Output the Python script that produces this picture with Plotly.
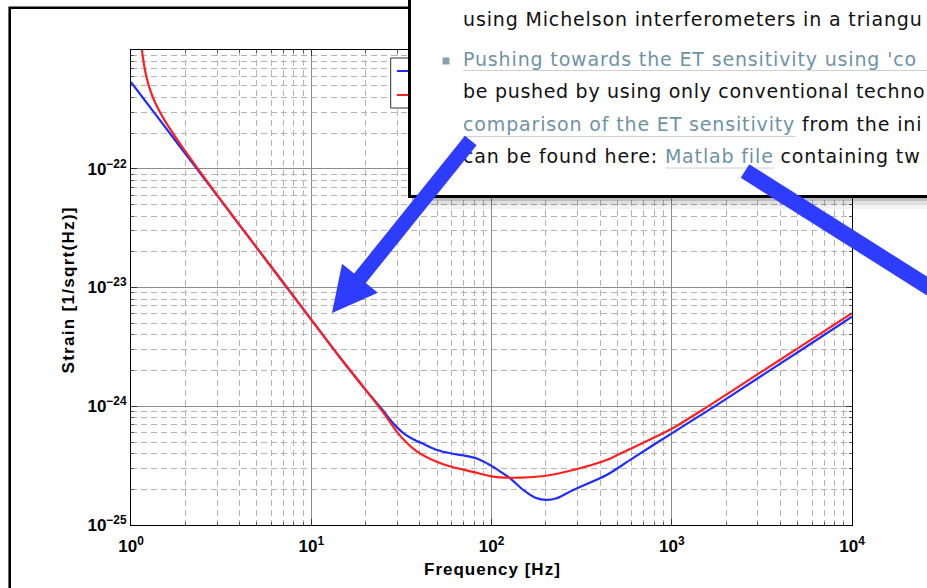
import plotly.graph_objects as go

# ---------------- data ----------------
freq_blue = [1, 1.5, 2, 2.4, 3, 4, 5, 7, 10, 14.4, 20, 25, 28, 30, 33, 37, 42, 50, 60, 70, 83, 98,
             112, 127, 150, 175, 202, 230, 284, 435, 600, 1000, 1775, 3000, 5000, 10000]
log_strain_blue = [-21.27, -21.622, -21.872, -22.03, -22.224, -22.474, -22.668, -22.96, -23.27,
                   -23.587, -23.86, -24.035, -24.13, -24.18, -24.235, -24.28, -24.318, -24.368,
                   -24.398, -24.415, -24.44, -24.495, -24.55, -24.607, -24.705, -24.77, -24.789,
                   -24.775, -24.705, -24.579, -24.443, -24.228, -23.99, -23.764, -23.545, -23.246]

freq_red = [1.1, 1.12, 1.15, 1.18, 1.22, 1.27, 1.33, 1.39, 1.5, 1.6, 1.8, 2.0, 2.4, 3, 4, 5, 7,
            10, 14.4, 20, 25, 30, 34, 38.5, 50, 60, 80, 100, 130, 160, 200, 284, 435, 516, 667,
            1000, 1630, 3000, 5000, 10000]
log_strain_red = [-20.6, -20.8, -21.0, -21.12, -21.231, -21.326, -21.408, -21.472, -21.565,
                  -21.635, -21.753, -21.852, -22.02, -22.22, -22.474, -22.668, -22.96, -23.27,
                  -23.587, -23.86, -24.05, -24.22, -24.31, -24.38, -24.47, -24.51, -24.555, -24.59,
                  -24.602, -24.598, -24.585, -24.537, -24.453, -24.40, -24.32, -24.19, -23.99,
                  -23.73, -23.513, -23.217]

x_tick_vals = [1, 10, 100, 1000, 10000]
x_tick_text = ["10<sup>0</sup>", "10<sup>1</sup>", "10<sup>2</sup>", "10<sup>3</sup>", "10<sup>4</sup>"]
y_tick_vals = [1e-25, 1e-24, 1e-23, 1e-22]
y_tick_text = ["10<sup>\u221225</sup>", "10<sup>\u221224</sup>", "10<sup>\u221223</sup>", "10<sup>\u221222</sup>"]

x_title = "Frequency [Hz]"
y_title = "Strain [1/sqrt(Hz)]"

LINK = "#6e92a6"
# popup rows (visible part only): list of (text, is_link) segments
popup_rows = [
    [("using Michelson interferometers in a triangu", False)],
    [("Pushing towards the ET sensitivity using 'co", True)],
    [("be pushed by using only conventional techno", False)],
    [("comparison of the ET sensitivity", True), (" from the ini", False)],
    [("can be found here: ", False), ("Matlab file", True), (" containing tw", False)],
]
row_spacing = [0.85, 0.85, 0.7, 0.85, 0.85]

# ---------------- layout geometry (pixels) ----------------
W, H = 927, 588
L, R, T, B = 131, 852, 50, 525


def px(x):
    return (x - L) / (R - L)


def py(y):
    return (B - y) / (B - T)


strain_blue = [10 ** v for v in log_strain_blue]
strain_red = [10 ** v for v in log_strain_red]

fig = go.Figure()
fig.add_trace(go.Scatter(x=freq_blue, y=strain_blue, mode="lines",
                         line=dict(color="#1f2bff", width=2.2, shape="spline", smoothing=0.8),
                         showlegend=False, hoverinfo="skip"))
fig.add_trace(go.Scatter(x=freq_red, y=strain_red, mode="lines",
                         line=dict(color="#ff1f1f", width=2.2, shape="spline", smoothing=0.8),
                         showlegend=False, hoverinfo="skip"))

tickfont = dict(family="Liberation Sans, Arial, sans-serif", size=17, color="black", weight="bold")
common_axis = dict(
    type="log", showgrid=True, gridcolor="#8c8c8c", gridwidth=1,
    showline=True, linecolor="black", linewidth=1, mirror="allticks",
    ticks="inside", ticklen=6, tickcolor="#333", zeroline=False, tickfont=tickfont,
    minor=dict(dtick="D1", showgrid=True, gridcolor="#b4b4b4", griddash="6px,4px",
               ticks="inside", ticklen=3, tickcolor="#555"),
)
fig.update_xaxes(range=[0, 4], tickmode="array", tickvals=x_tick_vals, ticktext=x_tick_text,
                 ticklabelstandoff=6, **common_axis)
fig.update_yaxes(range=[-25, -21], tickmode="array", tickvals=y_tick_vals, ticktext=y_tick_text,
                 **common_axis)

shapes = []


def rect(x0, y0, x1, y1, **kw):
    shapes.append(dict(type="rect", xref="paper", yref="paper", layer="above",
                       x0=px(x0), x1=px(x1), y0=py(y0), y1=py(y1), **kw))


def seg(x0, y0, x1, y1, color, width):
    shapes.append(dict(type="line", xref="paper", yref="paper", layer="above",
                       x0=px(x0), x1=px(x1), y0=py(y0), y1=py(y1),
                       line=dict(color=color, width=width)))


ARROW = "#2d3cff"

# outer window frame
rect(9.7, 7.8, 2000, 2000, line=dict(color="black", width=2.6), fillcolor="rgba(0,0,0,0)")
# legend fragment (mostly hidden by the popup)
rect(390.7, 58, 520, 108, line=dict(color="#333", width=1), fillcolor="white")
seg(397, 71, 440, 71, "#1f2bff", 2)
seg(397, 95, 440, 95, "#ff1f1f", 2)
# popup shadow
for extra, alpha in [(13, 0.05), (9, 0.08), (5, 0.15), (2, 0.25)]:
    rect(412, 196, 2000, 196 + extra, line=dict(width=0), fillcolor=f"rgba(0,0,0,{alpha})")
# popup box
rect(409.5, -30, 2000, 196.5, line=dict(color="black", width=3), fillcolor="white")
# bullet
rect(442.5, 57.5, 449.5, 64.5, line=dict(width=0), fillcolor="#86a0ae")
# link underlines
seg(463, 70.5, 1000, 70.5, "#d0d0d0", 1)
seg(463, 136.5, 795.5, 136.5, "#d0d0d0", 1)
seg(666, 168, 774, 168, "#d0d0d0", 1)
# arrow 2 (runs off the right edge)
tail2 = (745, 171)
end2 = (745 + 0.845 * 320, 171 + 0.534 * 320)
seg(tail2[0], tail2[1], end2[0], end2[1], ARROW, 16)

# arrow head (arrow 1)
tip = (332, 313)
tail = (472, 139)
dx, dy = tail[0] - tip[0], tail[1] - tip[1]
ln = (dx * dx + dy * dy) ** 0.5
ux, uy = dx / ln, dy / ln
head_len, head_half = 44.6, 23
bx, by = tip[0] + ux * head_len, tip[1] + uy * head_len
c1 = (bx + uy * head_half, by - ux * head_half)
c2 = (bx - uy * head_half, by + ux * head_half)
path = "M {:.5f},{:.5f} L {:.5f},{:.5f} L {:.5f},{:.5f} Z".format(
    px(tip[0]), py(tip[1]), px(c1[0]), py(c1[1]), px(c2[0]), py(c2[1]))
shapes.append(dict(type="path", xref="paper", yref="paper", layer="above", path=path,
                   fillcolor=ARROW, line=dict(width=0)))

annotations = []
# axis titles
annotations.append(dict(text=f"<b><span style='letter-spacing:1px'>{x_title}</span></b>",
                        xref="paper", yref="paper", x=px(492), y=py(569),
                        xanchor="center", yanchor="middle", showarrow=False,
                        font=dict(family="Liberation Sans, Arial", size=17, color="black")))
annotations.append(dict(text=f"<b><span style='letter-spacing:1.3px'>{y_title}</span></b>",
                        xref="paper", yref="paper", x=px(67.5), y=py(290),
                        xanchor="center", yanchor="middle", textangle=-90, showarrow=False,
                        font=dict(family="Liberation Sans, Arial", size=17, color="black")))
# popup text
row_mid = [18.8, 58.8, 91.3, 123.8, 155.8]
for segs, ym, ls in zip(popup_rows, row_mid, row_spacing):
    html = ""
    for txt, is_link in segs:
        style = f"letter-spacing:{ls}px"
        if is_link:
            style = f"color:{LINK};" + style
        html += f"<span style='{style}'>{txt}</span>"
    annotations.append(dict(text=html, xref="paper", yref="paper", x=px(463), y=py(ym),
                            xanchor="left", yanchor="middle", showarrow=False, align="left",
                            borderpad=0, borderwidth=0,
                            font=dict(family="DejaVu Sans", size=19, color="#111")))

# arrow 1 shaft (drawn above the popup text)
end1 = (bx - ux * 10, by - uy * 10)
annotations.append(dict(text="", xref="paper", yref="paper", x=px(end1[0]), y=py(end1[1]),
                        ax=tail[0] - end1[0], ay=tail[1] - end1[1], axref="pixel", ayref="pixel",
                        showarrow=True, arrowhead=0, arrowwidth=15, arrowcolor=ARROW,
                        standoff=0, startstandoff=0, font=dict(size=1)))

fig.update_layout(
    width=W, height=H, autosize=False,
    margin=dict(l=L, r=W - R, t=T, b=H - B, pad=0),
    paper_bgcolor="white", plot_bgcolor="white",
    shapes=shapes, annotations=annotations, showlegend=False,
)

fig.write_html("out.html")
